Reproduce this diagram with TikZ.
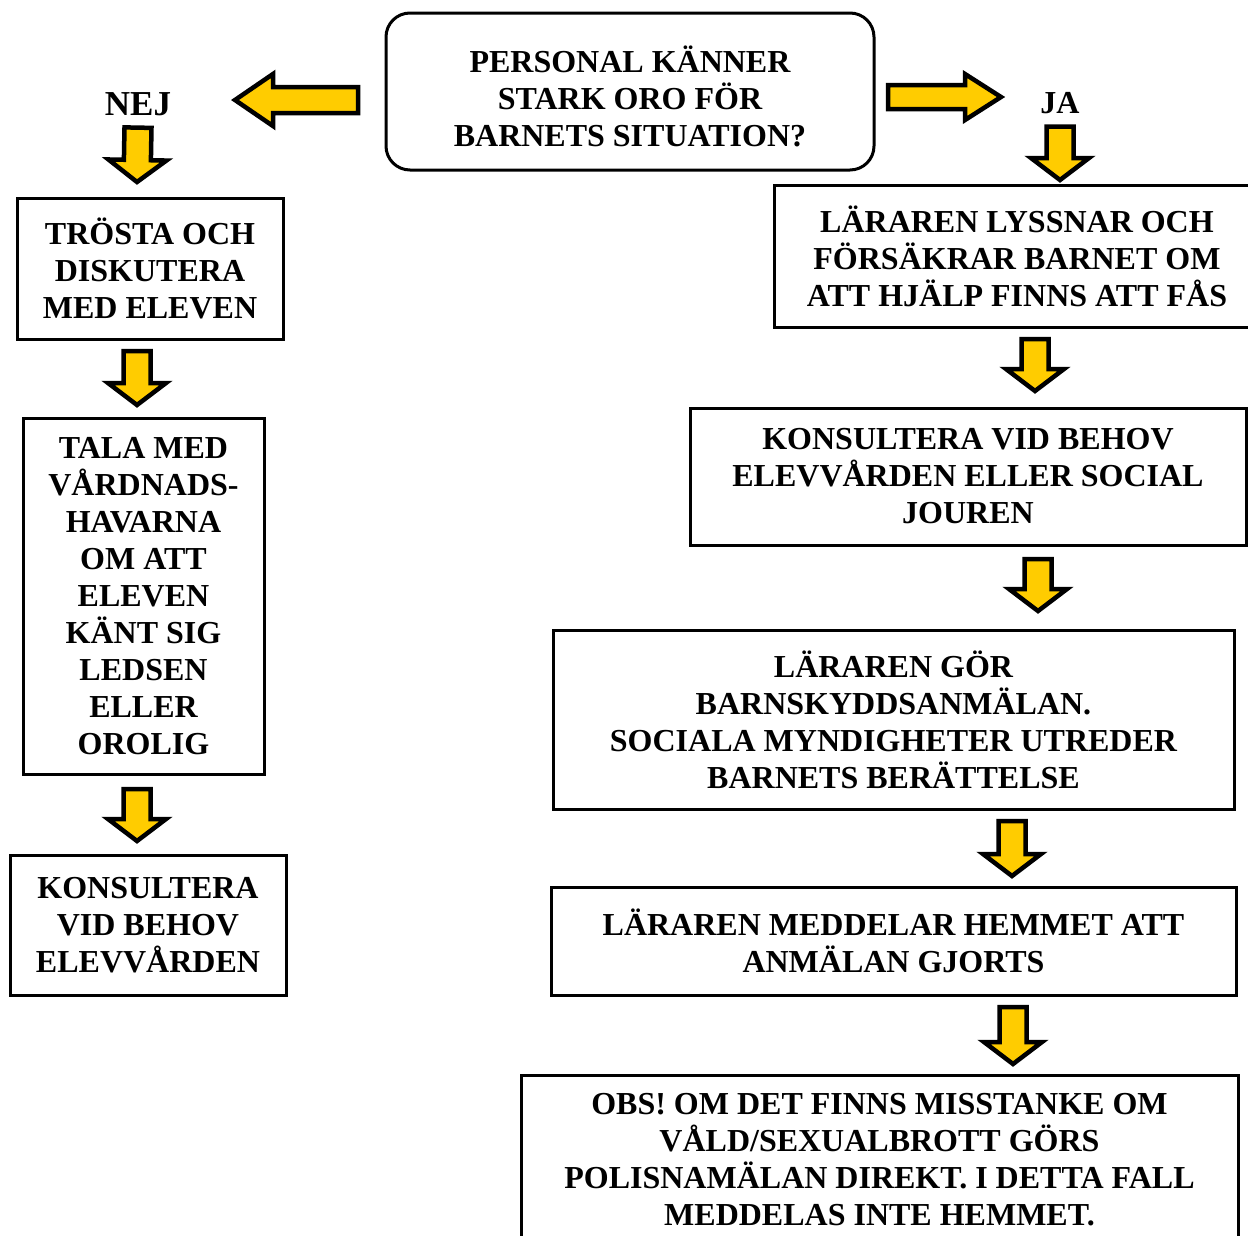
\documentclass[tikz,border=0pt]{standalone}
\usepackage{fontspec}
\setmainfont{Liberation Serif}
\usetikzlibrary{positioning,calc}

\definecolor{pilgul}{RGB}{255,204,0}

\tikzset{
  ruta/.style={draw, line width=3pt, align=center, inner sep=0pt, outer sep=0pt,
    font=\bfseries\fontsize{32}{37}\selectfont},
  fraga/.style={ruta, rounded corners=24pt},
  svar/.style={inner sep=0pt, outer sep=0pt, font=\bfseries\fontsize{32}{37}\selectfont},
  pil/.style={draw=black, line width=4.5pt, fill=pilgul, line join=miter},
}

% block arrow: shaft half width, head half width, head length, from, to
\newcommand{\blockpil}[5]{%
  \path (#4) coordinate (bp-a) (#5) coordinate (bp-b);
  \draw[pil] let \p1=(bp-a), \p2=(bp-b),
    \n1={atan2(\y2-\y1,\x2-\x1)}, \n2={veclen(\x2-\x1,\y2-\y1)} in
    [shift={(\p1)}, rotate=\n1]
    (0,#1) -- (\n2-#3,#1) -- (\n2-#3,#2) -- (\n2,0)
    -- (\n2-#3,-#2) -- (\n2-#3,-#1) -- (0,-#1) -- cycle;}

\begin{document}
\begin{tikzpicture}[x=1pt, y=1pt]
  \useasboundingbox (0,0) rectangle (1248,-1235);

  % question
  \node[fraga, minimum width=488pt, minimum height=157pt] (oro) at (630,-91.5)
    {\rule{0pt}{37pt}PERSONAL KÄNNER\\STARK ORO FÖR\\BARNETS SITUATION?};
  \node[svar, font=\bfseries\fontsize{35}{40}\selectfont] (nej) at (138,-104) {NEJ};
  \node[svar] (ja) at (1060,-103) {JA};

  % left branch (NEJ)
  \node[ruta, minimum width=266pt, minimum height=141pt] (trosta) at (150,-268.5)
    {TRÖSTA OCH\\DISKUTERA\\MED ELEVEN};
  \node[ruta, minimum width=241pt, minimum height=356pt] (tala) at (143.5,-596)
    {TALA MED\\VÅRDNADS-\\HAVARNA\\OM ATT\\ELEVEN\\KÄNT SIG\\LEDSEN\\ELLER\\OROLIG};
  \node[ruta, minimum width=276pt, minimum height=140pt] (konsv) at (148,-925)
    {KONSULTERA\\VID BEHOV\\ELEVVÅRDEN};

  % right branch (JA)
  \node[ruta, minimum width=486pt, minimum height=142pt] (lyssnar) at (1017,-256)
    {LÄRAREN LYSSNAR OCH\\FÖRSÄKRAR BARNET OM\\ATT HJÄLP FINNS ATT FÅS};
  \node[ruta, minimum width=556pt, minimum height=137pt] (konsh) at (968,-476.5)
    {KONSULTERA VID BEHOV\\ELEVVÅRDEN ELLER SOCIAL\\JOUREN};
  \node[ruta, minimum width=681pt, minimum height=179pt] (anmalan) at (893.5,-719.5)
    {LÄRAREN GÖR\\BARNSKYDDSANMÄLAN.\\SOCIALA MYNDIGHETER UTREDER\\BARNETS BERÄTTELSE};
  \node[ruta, minimum width=685pt, minimum height=108pt] (meddelar) at (893.5,-941)
    {LÄRAREN MEDDELAR HEMMET ATT\\ANMÄLAN GJORTS};
  \node[ruta, minimum width=717pt, minimum height=169pt] (obs) at (879.5,-1159.5)
    {OBS! OM DET FINNS MISSTANKE OM\\VÅLD/SEXUALBROTT GÖRS\\POLISNAMÄLAN DIREKT. I DETTA FALL\\MEDDELAS INTE HEMMET.};

  % side arrows
  \coordinate (nejpil) at (235,-100);
  \coordinate (japil) at (1001,-97);
  \blockpil{13}{26}{38}{[shift={(-28,-8.5)}]oro.west}{nejpil}
  \blockpil{12}{23}{36}{[shift={(14,-5.5)}]oro.east}{japil}

  % down arrows
  \blockpil{13.5}{29}{22}{[yshift=-12]nej.south}{[shift={(-13,16)}]trosta.north}
  \blockpil{13.5}{29}{22}{[shift={(-13,-12)}]trosta.south}{[shift={(-6.5,13)}]tala.north}
  \blockpil{13.5}{29}{22}{[shift={(-6.5,-15)}]tala.south}{[shift={(-11,14)}]konsv.north}
  \blockpil{13.5}{29}{22}{[yshift=-13]ja.south}{[shift={(43,5)}]lyssnar.north}
  \blockpil{13.5}{29}{22}{[shift={(18,-12)}]lyssnar.south}{[shift={(67,17)}]konsh.north}
  \blockpil{13.5}{29}{22}{[shift={(70,-14)}]konsh.south}{[shift={(144.5,19)}]anmalan.north}
  \blockpil{13.5}{29}{22}{[shift={(118.5,-12)}]anmalan.south}{[shift={(118.5,11)}]meddelar.north}
  \blockpil{13.5}{29}{22}{[shift={(119.5,-12)}]meddelar.south}{[shift={(133.5,11)}]obs.north}
\end{tikzpicture}
\end{document}
